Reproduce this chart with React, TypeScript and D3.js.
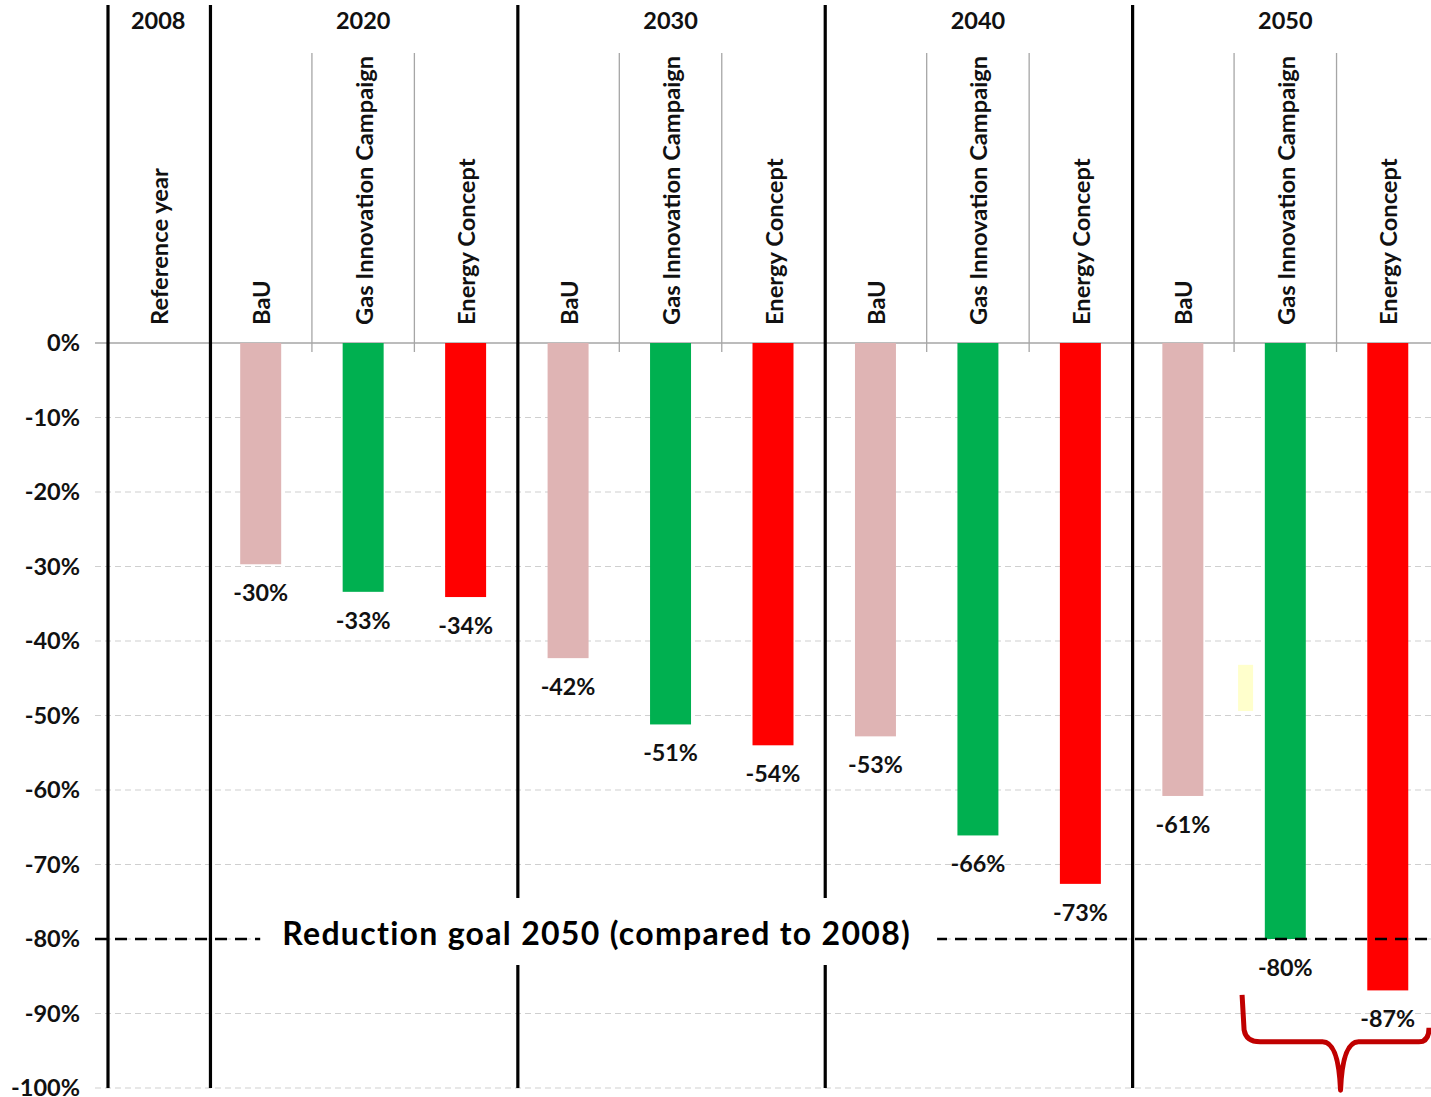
import { useEffect, useRef } from 'react'
import * as d3 from 'd3'

const years = ['2020', '2030', '2040', '2050']
const scenarios = ['BaU', 'Gas Innovation Campaign', 'Energy Concept']
const bauValues = [-29.7, -42.3, -52.8, -60.8]
const gasValues = [-33.4, -51.2, -66.1, -80.0]
const energyValues = [-34.1, -54.0, -72.6, -86.9]
const yTicks = [0, -10, -20, -30, -40, -50, -60, -70, -80, -90, -100]
const goalValue = -80
const goalLabel = 'Reduction goal 2050 (compared to 2008)'
const refYear = '2008'
const refLabel = 'Reference year'
// stray yellow box in the 2050 group (from the source slide)
const yellowBox = [-43.2, -49.4]
// brace under the two 2050 scenarios: top, shoulder, tip
const brace = [-87.5, -93.8, -100.3]

const colors = {
  BaU: '#dfb4b4',
  'Gas Innovation Campaign': '#00b050',
  'Energy Concept': '#ff0000',
}

const W = 1431
const H = 1097
const FONT = 'Lato, "Open Sans", sans-serif'

function App() {
  const ref = useRef<SVGSVGElement | null>(null)

  useEffect(() => {
    const svg = d3.select(ref.current)
    svg.selectAll('*').remove()

    const series = [bauValues, gasValues, energyValues]
    const rows = years.flatMap((yr, i) =>
      scenarios.map((s, j) => ({ key: `${yr}|${s}`, year: yr, scenario: s, value: series[j][i] }))
    )
    const keys = ['ref', ...rows.map((d) => d.key)]

    const x = d3.scaleBand().domain(keys).range([107, 1439])
    const bw = x.bandwidth()
    const barW = bw * 0.4
    const y = d3.scaleLinear().domain([0, -100]).range([343, 1088])

    // gridlines
    svg
      .append('g')
      .selectAll('line')
      .data(yTicks.filter((t) => t !== 0))
      .join('line')
      .attr('x1', 95)
      .attr('x2', W)
      .attr('y1', (d) => y(d))
      .attr('y2', (d) => y(d))
      .attr('stroke', '#cfcfcf')
      .attr('stroke-width', 1.2)
      .attr('stroke-dasharray', '6,4')

    svg
      .append('line')
      .attr('x1', 95)
      .attr('x2', W)
      .attr('y1', y(0))
      .attr('y2', y(0))
      .attr('stroke', '#a6a6a6')
      .attr('stroke-width', 1.5)

    // y tick labels
    svg
      .append('g')
      .selectAll('text')
      .data(yTicks)
      .join('text')
      .attr('x', 80)
      .attr('y', (d) => y(d))
      .attr('dy', '0.36em')
      .attr('text-anchor', 'end')
      .attr('font-family', FONT)
      .attr('font-weight', 700)
      .attr('font-size', 23.5)
      .attr('fill', '#111')
      .text((d) => `${d}%`)

    // thin separators between scenarios
    const thin = rows.filter((d) => d.scenario !== 'BaU').map((d) => x(d.key)!)
    svg
      .append('g')
      .selectAll('line')
      .data(thin)
      .join('line')
      .attr('x1', (d) => d)
      .attr('x2', (d) => d)
      .attr('y1', 53)
      .attr('y2', y(0) + 9)
      .attr('stroke', '#a6a6a6')
      .attr('stroke-width', 1.3)

    // bars
    svg
      .append('g')
      .selectAll('rect')
      .data(rows)
      .join('rect')
      .attr('x', (d) => x(d.key)! + (bw - barW) / 2)
      .attr('y', y(0))
      .attr('width', barW)
      .attr('height', (d) => y(d.value) - y(0))
      .attr('fill', (d) => colors[d.scenario])

    // value labels
    svg
      .append('g')
      .selectAll('text')
      .data(rows)
      .join('text')
      .attr('x', (d) => x(d.key)! + bw / 2)
      .attr('y', (d) => y(d.value) + 37)
      .attr('text-anchor', 'middle')
      .attr('font-family', FONT)
      .attr('font-weight', 700)
      .attr('font-size', 23.3)
      .attr('fill', '#111')
      .text((d) => `${Math.round(d.value)}%`)

    // thick group separators
    const thick = ['ref', ...years.map((yr) => `${yr}|BaU`)].map((k) => x(k)! + 1)
    svg
      .append('g')
      .selectAll('line')
      .data(thick)
      .join('line')
      .attr('x1', (d) => d)
      .attr('x2', (d) => d)
      .attr('y1', 5)
      .attr('y2', y(-100))
      .attr('stroke', '#000')
      .attr('stroke-width', 3.2)

    // group headers
    const headers = [
      { label: refYear, cx: x('ref')! + bw / 2 },
      ...years.map((yr) => ({ label: yr, cx: x(`${yr}|Gas Innovation Campaign`)! + bw / 2 })),
    ]
    svg
      .append('g')
      .selectAll('text')
      .data(headers)
      .join('text')
      .attr('x', (d) => d.cx)
      .attr('y', 29)
      .attr('text-anchor', 'middle')
      .attr('font-family', FONT)
      .attr('font-weight', 700)
      .attr('font-size', 23.5)
      .attr('fill', '#111')
      .text((d) => d.label)

    // rotated scenario labels
    const catLabels = [{ label: refLabel, key: 'ref' }, ...rows.map((d) => ({ label: d.scenario, key: d.key }))]
    svg
      .append('g')
      .selectAll('text')
      .data(catLabels)
      .join('text')
      .attr('transform', (d) => `translate(${x(d.key)! + bw / 2 + 1},325) rotate(-90)`)
      .attr('dy', '0.36em')
      .attr('text-anchor', 'start')
      .attr('font-family', FONT)
      .attr('font-weight', 700)
      .attr('font-size', 23.7)
      .attr('fill', '#111')
      .text((d) => d.label)

    // yellow stray box
    svg
      .append('rect')
      .attr('x', x('2050|Gas Innovation Campaign')! + 4)
      .attr('y', y(yellowBox[0]))
      .attr('width', 15)
      .attr('height', y(yellowBox[1]) - y(yellowBox[0]))
      .attr('fill', '#ffffcc')

    // goal line and label
    const goal = svg.append('g')
    const gLine = goal
      .append('line')
      .attr('x1', 95)
      .attr('x2', W)
      .attr('y1', y(goalValue))
      .attr('y2', y(goalValue))
      .attr('stroke', '#000')
      .attr('stroke-width', 2.6)
      .attr('stroke-dasharray', '12,8')
    const box = goal.append('rect').attr('fill', '#fff')
    const gText = goal
      .append('text')
      .attr('x', x('2020|BaU')! + bw * 0.71)
      .attr('y', y(goalValue) + 6)
      .attr('font-family', FONT)
      .attr('font-weight', 700)
      .attr('font-size', 32)
      .attr('letter-spacing', 1.3)
      .attr('fill', '#000')
      .text(goalLabel)
    const bb = (gText.node() as SVGTextElement).getBBox()
    box
      .attr('x', bb.x - 22)
      .attr('y', y(goalValue) - 41)
      .attr('width', bb.width + 48)
      .attr('height', 67)
    gLine.lower()

    // brace
    const bx0 = x('2050|Gas Innovation Campaign')! + 8
    const bx1 = W - 2
    const bmid = x('2050|Energy Concept')! + 4
    const yTop = y(brace[0])
    const ySh = y(brace[1])
    const yTip = y(brace[2])
    const p = d3.path()
    p.moveTo(bx0, yTop)
    p.lineTo(bx0 + 2, ySh - 12)
    p.quadraticCurveTo(bx0 + 4, ySh, bx0 + 18, ySh)
    p.lineTo(bmid - 18, ySh)
    p.quadraticCurveTo(bmid - 2, ySh, bmid, yTip)
    p.quadraticCurveTo(bmid + 2, ySh, bmid + 18, ySh)
    p.lineTo(bx1 - 10, ySh)
    p.quadraticCurveTo(bx1, ySh, bx1, ySh - 14)
    svg
      .append('path')
      .attr('d', p.toString())
      .attr('fill', 'none')
      .attr('stroke', '#c00000')
      .attr('stroke-width', 5)
      .attr('stroke-linejoin', 'round')
  }, [])

  return (
    <div style={{ position: 'absolute', left: 0, top: 0, background: '#fff' }}>
      <svg ref={ref} width={W} height={H} style={{ display: 'block' }} />
    </div>
  )
}

export default App
